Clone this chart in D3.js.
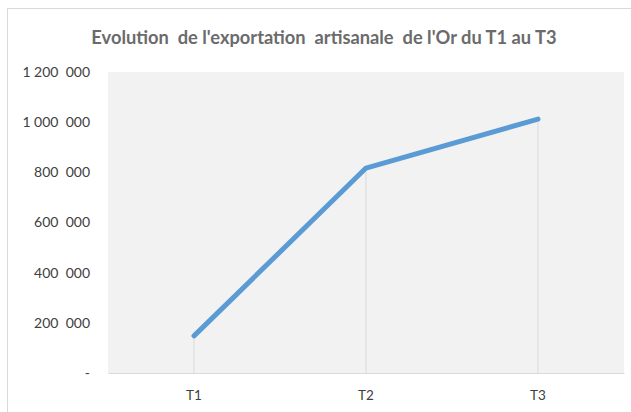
<!DOCTYPE html>
<html>
<head>
<meta charset="utf-8">
<script src="https://cdn.jsdelivr.net/npm/d3@7"></script>
<style>
  body { margin: 0; background: #fff; }
  svg { display: block; }
</style>
</head>
<body>
<svg width="631" height="412"></svg>
<script>
// donnees
let trimestres = ["T1", "T2", "T3"];
let exportations = [148000, 817000, 1012000];
let graduations = [0, 200000, 400000, 600000, 800000, 1000000, 1200000];
let titre = "Evolution  de l'exportation  artisanale  de l'Or du T1 au T3";

let svg = d3.select("svg");
let zone = { left: 108, right: 624, top: 72, bottom: 373 };

// cadre exterieur (seuls les bords haut et gauche sont visibles)
svg.append("rect")
  .attr("x", 7.5).attr("y", 8.5)
  .attr("width", 640).attr("height", 420)
  .attr("fill", "#fff")
  .attr("stroke", "#d9d9d9");

let x = d3.scaleBand()
  .domain(trimestres)
  .range([zone.left, zone.right]);

let y = d3.scaleLinear()
  .domain([0, 1200000])
  .range([zone.bottom, zone.top]);

svg.append("rect")
  .attr("x", zone.left).attr("y", zone.top)
  .attr("width", zone.right - zone.left)
  .attr("height", zone.bottom - zone.top)
  .attr("fill", "#f2f2f2");

svg.append("text")
  .attr("x", 324).attr("y", 44)
  .attr("text-anchor", "middle")
  .attr("font-family", "Lato")
  .attr("font-size", 18.3)
  .attr("font-weight", "bold")
  .attr("fill", "#6b6b6b")
  .style("white-space", "pre")
  .text(titre);

// axe vertical : "1 200  000"
let fmt = v => {
  if (v == 0) return "-";
  let s = d3.format(",")(v).split(",");
  return s.slice(0, -1).join(" ") + "  " + s[s.length - 1];
};
let axeY = svg.append("g")
  .attr("transform", "translate(" + (zone.left - 18) + ",0)")
  .call(d3.axisLeft(y).tickValues(graduations).tickSize(0).tickPadding(0).tickFormat(fmt));
axeY.select(".domain").remove();
axeY.selectAll("text")
  .attr("font-family", "Lato")
  .attr("font-size", 14)
  .attr("fill", "#404040")
  .style("white-space", "pre");

// axe horizontal
let axeX = svg.append("g")
  .attr("transform", "translate(0," + zone.bottom + ")")
  .call(d3.axisBottom(x).tickSize(0).tickPadding(17));
axeX.select(".domain").attr("stroke", "#d9d9d9");
axeX.selectAll("text")
  .attr("font-family", "Lato")
  .attr("font-size", 13.5)
  .attr("fill", "#404040");

let cx = d => x(d) + x.bandwidth() / 2;

// lignes de projection
svg.append("g")
  .selectAll("line")
  .data(trimestres)
  .join("line")
    .attr("x1", d => cx(d)).attr("x2", d => cx(d))
    .attr("y1", (d, i) => y(exportations[i]))
    .attr("y2", zone.bottom)
    .attr("stroke", "#d9d9d9")
    .attr("stroke-width", 1);

let ligne = d3.line()
  .x((d, i) => cx(trimestres[i]))
  .y(d => y(d));

svg.append("path")
  .datum(exportations)
  .attr("d", ligne)
  .attr("fill", "none")
  .attr("stroke", "#5b9bd5")
  .attr("stroke-width", 5)
  .attr("stroke-linecap", "round")
  .attr("stroke-linejoin", "round");
</script>
</body>
</html>
